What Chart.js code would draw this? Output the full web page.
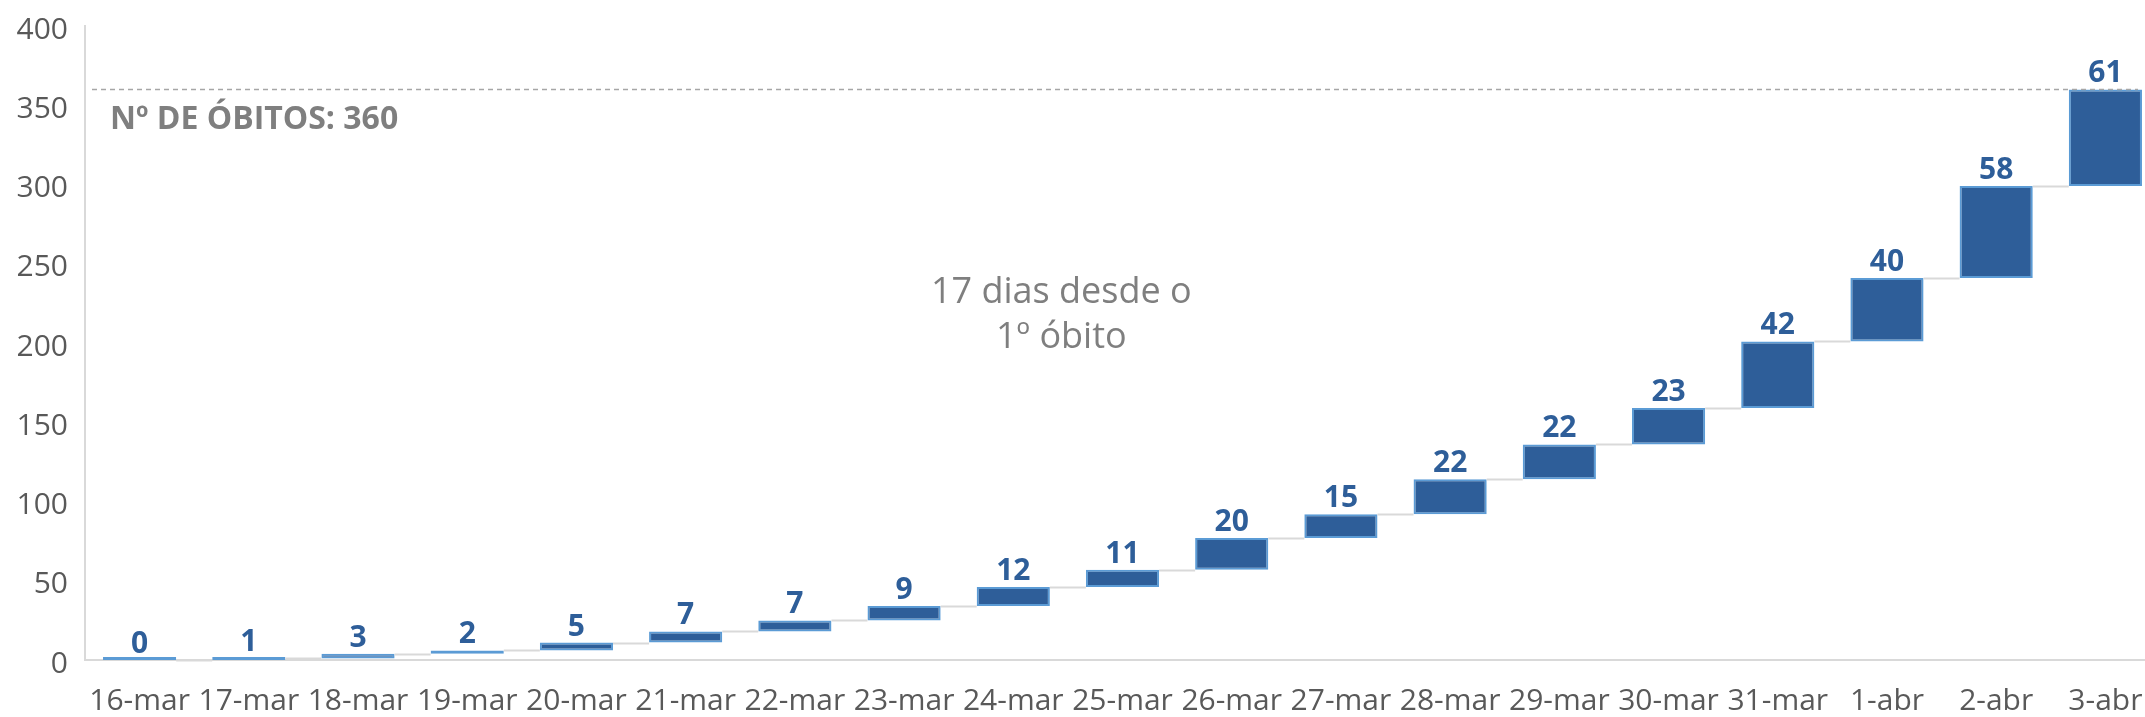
<!DOCTYPE html>
<html>
<head>
<meta charset="utf-8">
<script src="https://cdn.jsdelivr.net/npm/chart.js@4/dist/chart.umd.min.js"></script>
<style>
  html, body { margin: 0; padding: 0; background: #fff; overflow: hidden; }
  .wrap { width: 2160px; height: 717px; }
</style>
</head>
<body>
<div class="wrap"><canvas id="chart"></canvas></div>
<script>
const dias = ["16-mar","17-mar","18-mar","19-mar","20-mar","21-mar","22-mar","23-mar","24-mar","25-mar",
              "26-mar","27-mar","28-mar","29-mar","30-mar","31-mar","1-abr","2-abr","3-abr"];
const novosObitos = [0, 1, 3, 2, 5, 7, 7, 9, 12, 11, 20, 15, 22, 22, 23, 42, 40, 58, 61];
const yTicks = [0, 50, 100, 150, 200, 250, 300, 350, 400];

// waterfall: each bar goes from the previous total to the new total
let acumulado = [];
let soma = 0;
let barras = novosObitos.map(v => {
    let inicio = soma;
    soma += v;
    acumulado.push(soma);
    return [inicio, soma];
});
const totalObitos = soma;

const blue = "#2E5E99";
const blueLight = "#5B9BD5";
const gray = "#7F7F7F";

let extras = {
    id: "extras",
    afterDatasetsDraw(chart) {
        const ctx = chart.ctx;
        const x = chart.scales.x;
        const y = chart.scales.y;
        const bars = chart.getDatasetMeta(0).data;

        ctx.save();
        // connectors between bars
        ctx.strokeStyle = "#D9D9D9";
        ctx.lineWidth = 2;
        for (let i = 0; i < bars.length - 1; i++) {
            let yy = Math.round(y.getPixelForValue(acumulado[i])) + 0.5;
            ctx.beginPath();
            ctx.moveTo(bars[i].x + bars[i].width / 2, yy);
            ctx.lineTo(bars[i + 1].x - bars[i + 1].width / 2, yy);
            ctx.stroke();
        }

        // total dashed line
        let last = bars[bars.length - 1];
        let yt = Math.round(y.getPixelForValue(totalObitos)) + 0.5;
        ctx.strokeStyle = "#A6A6A6";
        ctx.lineWidth = 1.5;
        ctx.setLineDash([5, 4]);
        ctx.beginPath();
        ctx.moveTo(chart.chartArea.left + 7, yt);
        ctx.lineTo(last.x + last.width / 2 - 4, yt);
        ctx.stroke();
        ctx.setLineDash([]);

        // value labels
        ctx.fillStyle = blue;
        ctx.font = "bold 30px 'Open Sans'";
        ctx.textAlign = "center";
        ctx.textBaseline = "alphabetic";
        bars.forEach((b, i) => {
            ctx.fillText(String(novosObitos[i]), b.x, y.getPixelForValue(acumulado[i]) - 7);
        });

        // annotations
        ctx.fillStyle = gray;
        ctx.textAlign = "left";
        ctx.textBaseline = "middle";
        ctx.font = "bold 32px 'Open Sans'";
        ctx.fillText("Nº DE ÓBITOS: " + totalObitos, chart.chartArea.left + 25, y.getPixelForValue(341));

        ctx.textAlign = "center";
        ctx.font = "36px 'Open Sans'";
        ctx.fillText("17 dias desde o", x.getPixelForValue(8.44), y.getPixelForValue(232));
        ctx.fillText("1º óbito", x.getPixelForValue(8.44), y.getPixelForValue(203));
        ctx.restore();
    }
};

new Chart(document.getElementById("chart"), {
    type: "bar",
    data: {
        labels: dias,
        datasets: [{
            data: barras,
            backgroundColor: blue,
            borderColor: blueLight,
            borderWidth: 2,
            borderSkipped: false,
            minBarLength: 3,
            barPercentage: 0.67,
            categoryPercentage: 1.0
        }]
    },
    options: {
        responsive: true,
        maintainAspectRatio: false,
        animation: false,
        layout: { padding: { top: 26, right: 0, left: 0, bottom: 0 } },
        plugins: { legend: { display: false }, tooltip: { enabled: false } },
        scales: {
            x: {
                grid: { display: false, drawTicks: false },
                border: { color: "#D9D9D9", width: 2 },
                ticks: {
                    color: "#595959",
                    font: { family: "'Open Sans'", size: 30 },
                    padding: 23,
                    autoSkip: false,
                    maxRotation: 0
                },
                afterFit: (s) => { s.height = 57; s.paddingLeft = 0; s.paddingRight = 0; }
            },
            y: {
                min: 0,
                max: 400,
                grid: { display: false, drawTicks: false },
                border: { color: "#D9D9D9", width: 2 },
                afterBuildTicks: (s) => { s.ticks = yTicks.map(v => ({ value: v })); },
                ticks: {
                    color: "#595959",
                    font: { family: "'Open Sans'", size: 30 },
                    padding: 17,
                    labelOffset: 4
                },
                afterFit: (s) => { s.width = 85; s.paddingTop = 0; s.paddingBottom = 0; }
            }
        }
    },
    plugins: [extras]
});
</script>
</body>
</html>
